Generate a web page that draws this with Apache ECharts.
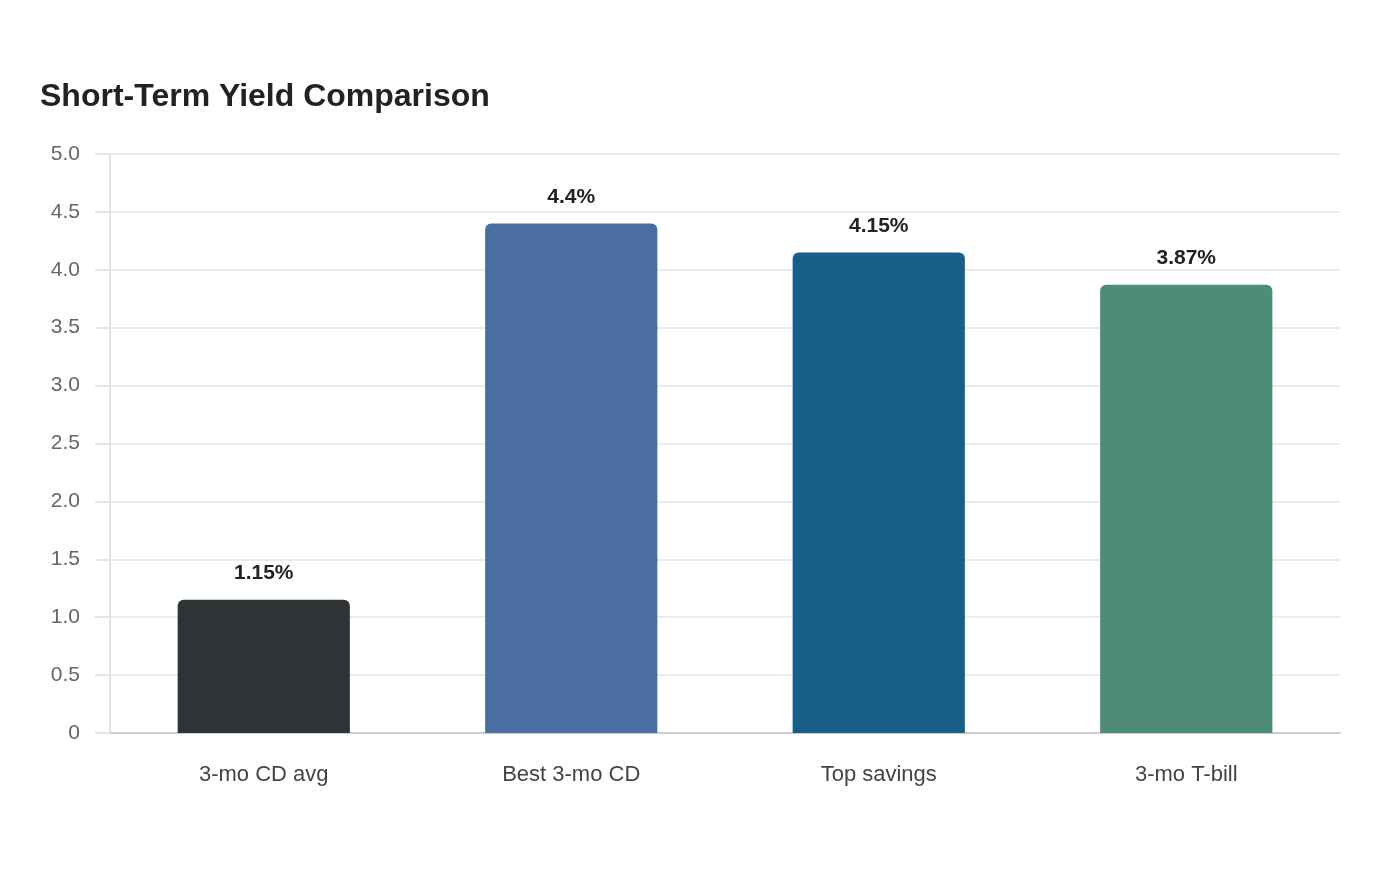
<!DOCTYPE html>
<html>
<head>
<meta charset="utf-8">
<script src="https://cdn.jsdelivr.net/npm/echarts@6/dist/echarts.min.js"></script>
<style>html,body{margin:0;padding:0;background:#fff}#c{width:1400px;height:880px}</style>
</head>
<body>
<div id="c"></div>
<script>
const categories = ["3-mo CD avg", "Best 3-mo CD", "Top savings", "3-mo T-bill"];
const values = [1.15, 4.4, 4.15, 3.87];
const colors = ["#2e3436", "#4a6ea2", "#175f86", "#4e8b79"];
const yTicks = { min: 0, max: 5, interval: 0.5 };

const chart = echarts.init(document.getElementById('c'));
const font = "'Liberation Sans', Arial, sans-serif";
chart.setOption({
  backgroundColor: '#fff',
  animation: false,
  title: {
    text: 'Short-Term Yield Comparison',
    left: 35, top: 76,
    textStyle: { fontFamily: font, fontSize: 32, fontWeight: 'bold', color: '#222' }
  },
  grid: { left: 110, right: 60, top: 154, bottom: 147, containLabel: false },
  xAxis: {
    type: 'category',
    data: categories,
    axisLine: { lineStyle: { color: '#cccccc', width: 2 } },
    axisTick: { show: false },
    axisLabel: { margin: 31, fontFamily: font, fontSize: 22, color: '#444' }
  },
  yAxis: {
    type: 'value',
    min: yTicks.min, max: yTicks.max, interval: yTicks.interval,
    axisLine: { show: true, lineStyle: { color: '#e3e3e3', width: 2 } },
    axisTick: { show: true, length: 15, lineStyle: { color: '#e6e6e6', width: 2 } },
    splitLine: { lineStyle: { color: '#ebebeb', width: 2 } },
    axisLabel: {
      margin: 30, fontFamily: font, fontSize: 21, color: '#666',
      formatter: v => v === 0 ? '0' : v.toFixed(1)
    }
  },
  series: [{
    type: 'bar',
    barWidth: '56%',
    data: values.map((v, i) => ({ value: v, itemStyle: { color: colors[i] } })),
    itemStyle: { borderRadius: [6, 6, 0, 0] },
    label: {
      show: true, position: 'top', distance: 16,
      fontFamily: font, fontSize: 21, fontWeight: 'bold', color: '#222',
      formatter: p => p.value + '%'
    }
  }]
});
</script>
</body>
</html>
